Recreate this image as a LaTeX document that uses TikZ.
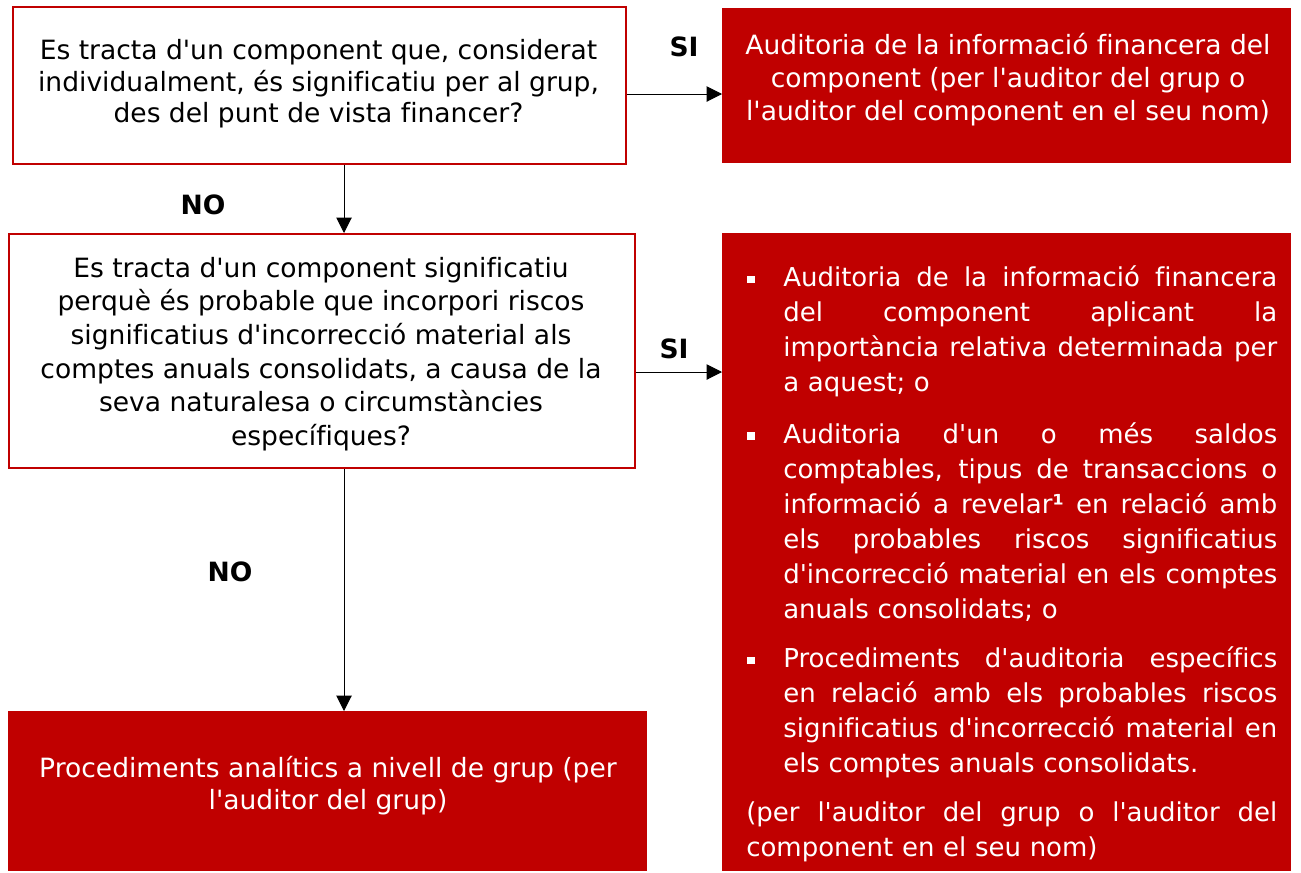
\documentclass[tikz,border=0pt]{standalone}
\usepackage{fontspec}
\setmainfont{DejaVu Sans}[Ligatures=CommonOff]
\usetikzlibrary{arrows.meta}
\definecolor{boxred}{RGB}{192,0,0}
\newcommand{\ap}{\textquotesingle}
\newlength{\jw}\setlength{\jw}{370.5pt}
\newcommand{\jline}[1]{\makebox[\jw][s]{\spaceskip=0pt\xspaceskip=0pt #1}}
\newcommand{\bitem}[1]{\noindent\makebox[27.75pt][l]{\hspace{0.75pt}\rule[2.5pt]{5.5pt}{5.5pt}}\parbox[t]{\jw}{#1}\par}
\tikzset{
  qbox/.style={draw=boxred, line width=1.5pt, fill=white, inner sep=0pt, anchor=north west},
  abox/.style={fill=boxred, draw=none, inner sep=0pt, anchor=north west},
  ctxt/.style={align=center, inner sep=0pt},
  lbl/.style={inner sep=0pt, font=\fontsize{19.9pt}{23pt}\selectfont\bfseries},
  arr/.style={-{Triangle[length=11.5pt,width=11.5pt]}, line width=0.75pt, black}
}
\begin{document}
\begin{tikzpicture}[x=0.75pt,y=-0.75pt]
\useasboundingbox (0,0) rectangle (1301,872);
% boxes
\node[qbox, minimum width=459.75pt, minimum height=117.75pt] (q1) at (12,6) {};
\node[abox, minimum width=426.75pt, minimum height=116.25pt] (b2) at (722,8) {};
\node[qbox, minimum width=469.5pt, minimum height=175.5pt] (q3) at (8,233) {};
\node[abox, minimum width=426.75pt, minimum height=478.5pt] (b4) at (722,233) {};
\node[abox, minimum width=479.25pt, minimum height=120pt] (b5) at (8,711) {};
% texts
\node[ctxt, font=\fontsize{19.9pt}{23.55pt}\selectfont] (t1) at (318.5,84) {Es tracta d\ap un component que, considerat\\individualment, és significatiu per al grup,\\des del punt de vista financer?};
\node[ctxt, text=white, font=\fontsize{19.9pt}{24.5pt}\selectfont] (t2) at (1008,79.5) {Auditoria de la informació financera del\\component (per l\ap auditor del grup o\\l\ap auditor del component en el seu nom)};
\node[ctxt, font=\fontsize{19.9pt}{25.2pt}\selectfont] (t3) at (321,354) {Es tracta d\ap un component significatiu\\perquè és probable que incorpori riscos\\significatius d\ap incorrecció material als\\comptes anuals consolidats, a causa de la\\seva naturalesa o circumstàncies\\específiques?};
\node[ctxt, text=white, font=\fontsize{19.9pt}{24pt}\selectfont] (t5) at (328,786) {Procediments analítics a nivell de grup (per\\l\ap auditor del grup)};
\node[inner sep=0pt, anchor=north west, text=white, text width=398.25pt, align=left, font=\fontsize{19.5pt}{26.25pt}\selectfont] (t4) at (746,265.5) {%
\bitem{\jline{Auditoria de la informació financera}\\\jline{del component aplicant la}\\\jline{importància relativa determinada per}\\a aquest; o}
\vspace{18pt}
\bitem{\jline{Auditoria d\ap un o més saldos}\\\jline{comptables, tipus de transaccions o}\\\jline{informació a revelar\textbf{¹} en relació amb}\\\jline{els probables riscos significatius}\\\jline{d\ap incorrecció material en els comptes}\\anuals consolidats; o}
\vspace{18pt}
\bitem{\jline{Procediments d\ap auditoria específics}\\\jline{en relació amb els probables riscos}\\\jline{significatius d\ap incorrecció material en}\\els comptes anuals consolidats.}
\vspace{17pt}
\noindent\makebox[398.25pt][s]{\spaceskip=0pt\xspaceskip=0pt (per l\ap auditor del grup o l\ap auditor del}\\component en el seu nom)};
% labels
\node[lbl] (si1) at (684,47) {SI};
\node[lbl] (no1) at (203,205) {NO};
\node[lbl] (si2) at (674,349) {SI};
\node[lbl] (no2) at (230,572) {NO};
% helper coordinates
\coordinate (ya) at (0,94);
\coordinate (yb) at (0,372);
\coordinate (xa) at (344,0);
% connectors
\draw[arr] (q1.east |- ya) -- (b2.west |- ya);
\draw[arr] (q1.south -| xa) -- (q3.north -| xa);
\draw[arr] (q3.east |- yb) -- (b4.west |- yb);
\draw[arr] (q3.south -| xa) -- (b5.north -| xa);
\end{tikzpicture}
\end{document}
